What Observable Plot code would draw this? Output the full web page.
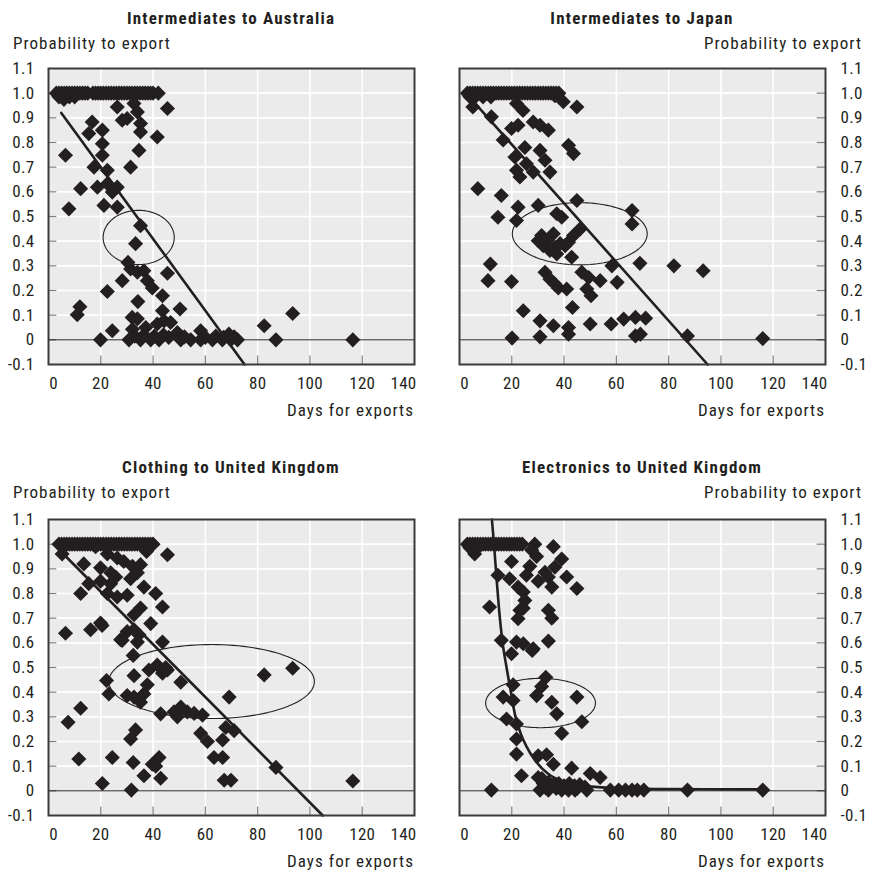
<!DOCTYPE html>
<html>
<head>
<meta charset="utf-8">
<script src="https://cdn.jsdelivr.net/npm/d3@7"></script>
<script src="https://cdn.jsdelivr.net/npm/@observablehq/plot@0.6"></script>
<style>
  html, body { margin: 0; padding: 0; background: #fff; }
  #page { position: relative; width: 876px; height: 872px; overflow: hidden;
    font-family: "Roboto Condensed", "DejaVu Sans Condensed", sans-serif;
    color: #231f20; }
  .t { position: absolute; white-space: nowrap; line-height: 1; }
  .title { font-weight: bold; font-size: 17px; letter-spacing: 1.2px; transform: translate(-50%, -50%); }
  .ylab { font-size: 17px; letter-spacing: 1.05px; transform: translateY(-50%); }
  .ylab.r { transform: translate(-100%, -50%); }
  .xlab { font-size: 17px; letter-spacing: 1.05px; transform: translate(-100%, -50%); }
  .panel { position: absolute; }
</style>
</head>
<body>
<div id="page"></div>
<script>
// ---------------- DATA ----------------
const titles = ["Intermediates to Australia", "Intermediates to Japan", "Clothing to United Kingdom", "Electronics to United Kingdom"];
const yAxisTitle = "Probability to export";
const xAxisTitle = "Days for exports";
const xTicks = [0, 20, 40, 60, 80, 100, 120, 140];
const yTicks = [-0.1, 0, 0.1, 0.2, 0.3, 0.4, 0.5, 0.6, 0.7, 0.8, 0.9, 1.0, 1.1];

// Intermediates to Australia: [days, probability]
const ausTop = [3,4,5,6,7,8,9,10,11,12,13,14,15,17,18,19,20,21,22,23,24,25,26,27,28,29,30,31,32,33,34,35,36,37,38,39,40,42];
const ausPoints = [[4,0.985],[6,0.985],[8,0.985],[10,0.985],[5.9,0.975],[26.3,0.944],[28.2,0.89],[30.1,0.897],[32.7,0.958],[34,0.924],[35.2,0.877],[35.2,0.843],[41.6,0.822],[45.5,0.938],[16.7,0.883],[15.4,0.836],[20.6,0.85],[20.6,0.795],[6.5,0.748],[20.6,0.748],[34.6,0.768],[17.4,0.70],[22.5,0.687],[31.4,0.70],[12.3,0.613],[18.7,0.619],[22.5,0.633],[24.4,0.599],[26.3,0.619],[7.8,0.531],[21.2,0.545],[26.3,0.538],[35.2,0.463],[33.3,0.39],[30.4,0.314],[31.4,0.287],[34,0.274],[36.5,0.28],[45.5,0.27],[28.2,0.24],[37.8,0.24],[39.7,0.21],[22.5,0.196],[43.6,0.179],[34.2,0.155],[12,0.134],[11,0.102],[50.3,0.125],[43.6,0.118],[32,0.091],[34,0.085],[41.6,0.064],[44.2,0.077],[46.7,0.07],[37.2,0.05],[32.1,0.043],[24.4,0.037],[58.2,0.037],[49.3,0.03],[82.5,0.057],[93.4,0.107],[69,0.023],[19.9,0],[30.8,0],[35.2,0],[39.1,0],[42.3,0],[50.6,0],[54.4,0],[58.2,0],[62.7,0],[66.5,0],[69.7,0],[72.3,0],[87,0],[116.4,0],[33,0.015],[36.5,0.02],[40.5,0.015],[44,0.02],[46,0.01],[52,0.012],[60,0.01],[64,0.015],[67,0.01],[71,0.012]];
const ausFit = [[4.9,0.92],[75,-0.1]];
const ausEllipse = [34.5, 0.415, 13.6, 0.11]; // centre x, centre y, radius x, radius y

// Intermediates to Japan
const jpnTop = [3,4,5,6,7,8,9,10,11,12,13,14,15,16,17,18,19,20,21,22,23,24,25,26,27,28,29,30,31,32,33,34,35,36,37,38];
const jpnPoints = [[4,0.985],[6,0.985],[9,0.985],[12,0.985],[5.1,0.944],[12.2,0.904],[21.8,0.958],[19.9,0.857],[22.4,0.87],[24.3,0.93],[28.2,0.883],[30.8,0.87],[34,0.85],[36.5,0.99],[39.7,0.965],[44.9,0.944],[16.7,0.81],[25,0.78],[30.8,0.768],[41.7,0.789],[43.6,0.755],[21.2,0.741],[25.6,0.714],[32.7,0.728],[21.8,0.687],[23.1,0.66],[28.2,0.68],[34.6,0.68],[7,0.613],[16,0.585],[44.9,0.565],[22.4,0.538],[30.1,0.545],[37.2,0.511],[66,0.524],[14.7,0.497],[21.8,0.484],[39.1,0.497],[66,0.47],[46.2,0.45],[43.6,0.423],[31.4,0.423],[33.3,0.402],[35.9,0.43],[36.5,0.375],[32,0.382],[34.6,0.362],[37.2,0.348],[40.4,0.382],[41.7,0.396],[30.1,0.402],[38.5,0.39],[42.9,0.335],[58.3,0.30],[69,0.31],[82,0.30],[93.2,0.28],[11.8,0.307],[10.9,0.24],[19.9,0.236],[32.7,0.274],[34.6,0.246],[36.5,0.226],[37.8,0.21],[41,0.206],[46.8,0.274],[49.4,0.253],[48.7,0.206],[50.3,0.179],[53.8,0.24],[60.3,0.233],[24.4,0.118],[43.2,0.131],[30.8,0.077],[35.9,0.057],[41.7,0.05],[41.7,0.023],[50,0.064],[58,0.064],[62.8,0.084],[67.3,0.091],[71.2,0.088],[67.3,0.016],[69.2,0.023],[87.2,0.016],[20.1,0.007],[30.8,0.012],[116,0.005]];
const jpnFit = [[4.6,0.975],[94.9,-0.1]];
const jpnEllipse = [46, 0.43, 25.8, 0.126];

// Clothing to United Kingdom
const gbrTop = [4,5,6,7,8,9,10,11,12,13,14,15,16,17,18,19,20,21,22,23,24,25,26,27,28,29,30,31,32,33,34,35,36,37,38,39,40];
const gbrPoints = [[5.2,0.96],[45.5,0.957],[13.5,0.92],[18,0.99],[22.5,0.96],[19.9,0.904],[23.8,0.884],[26.3,0.944],[28.8,0.93],[32.1,0.91],[35.2,0.917],[34,0.884],[37.5,0.97],[31.4,0.86],[15.4,0.84],[19.9,0.85],[23.8,0.84],[25.7,0.867],[36.5,0.826],[12.3,0.80],[22.5,0.80],[26.3,0.786],[30.1,0.793],[41,0.80],[43.6,0.745],[32.7,0.714],[35.2,0.741],[39.1,0.678],[19.9,0.68],[20.5,0.67],[16.1,0.653],[6.5,0.639],[30.1,0.646],[32.7,0.653],[34.6,0.633],[27.6,0.613],[34,0.603],[43.6,0.603],[28.2,0.61],[32.4,0.549],[38.4,0.49],[41.6,0.51],[43.6,0.477],[44.8,0.50],[45.5,0.49],[32.7,0.467],[22.2,0.447],[23.1,0.393],[50.6,0.44],[37.8,0.43],[36.5,0.393],[30.1,0.386],[32.7,0.38],[35.2,0.359],[34.5,0.37],[82.5,0.47],[93.4,0.497],[69.1,0.38],[42.9,0.312],[48,0.32],[50.6,0.34],[49.3,0.30],[53.1,0.32],[55.7,0.314],[58.9,0.307],[67.8,0.257],[71,0.244],[58.2,0.233],[60.8,0.20],[66.6,0.206],[63.3,0.135],[66.6,0.135],[7.5,0.278],[12.3,0.335],[33.3,0.247],[31.4,0.21],[11.6,0.129],[24.4,0.135],[32.4,0.115],[39.7,0.108],[42.3,0.135],[41,0.10],[36.5,0.061],[42.9,0.051],[20.6,0.03],[31.7,0.003],[67.2,0.043],[69.8,0.043],[87,0.095],[116.4,0.04]];
const gbrFit = [[5.7,0.96],[104.9,-0.1]];
const gbrEllipse = [62.4, 0.443, 39.3, 0.15];

// Electronics to United Kingdom
const eleTop = [3,4,5,6,7,8,9,10,11,12,13,14,15,16,17,18,19,20,21,22,23,24,28.8];
const elePoints = [[35.9,0.99],[4,0.985],[7,0.985],[5.8,0.96],[19.9,0.93],[27.6,0.976],[29.5,0.95],[26.9,0.91],[25.6,0.874],[39.1,0.94],[36.5,0.907],[32.7,0.886],[14.7,0.874],[19.2,0.86],[30.1,0.85],[34,0.867],[41,0.867],[22.4,0.826],[35.3,0.826],[44.9,0.82],[24.4,0.806],[25,0.772],[11.5,0.745],[23.1,0.732],[24.4,0.74],[34,0.732],[22.4,0.698],[35.3,0.70],[16,0.61],[21.8,0.603],[24.4,0.596],[28.2,0.576],[34,0.607],[19.9,0.556],[27.8,0.569],[33,0.46],[20.5,0.43],[31.4,0.423],[29.5,0.386],[16.7,0.38],[20.5,0.366],[44.9,0.38],[35.3,0.359],[37.2,0.312],[18,0.291],[21.8,0.271],[46.8,0.28],[39.1,0.233],[21.8,0.21],[21.8,0.149],[30.1,0.142],[33.3,0.146],[35.9,0.108],[42.9,0.092],[23.7,0.061],[50,0.07],[53.8,0.054],[30.1,0.054],[31.5,0.05],[32,0.03],[34,0.035],[36,0.025],[38,0.03],[40,0.02],[42,0.03],[44,0.02],[46,0.025],[48,0.015],[33,0.012],[37,0.01],[45,0.01],[12.2,0.003],[30.8,0.003],[34,0.003],[39.1,0.003],[41.7,0.003],[44.2,0.003],[48.7,0.003],[57.7,0.003],[60.9,0.003],[63.5,0.003],[66,0.003],[68,0.003],[70.5,0.003],[87.2,0.003],[116,0.003]];
const eleFit = [[12.4,1.1],[13.2,1.0],[14.1,0.87],[15.1,0.74],[16.5,0.6],[18,0.5],[19.5,0.41],[21.2,0.31],[23.5,0.23],[25.6,0.18],[28.8,0.125],[34,0.068],[40.4,0.035],[49.3,0.018],[62,0.01],[80,0.007],[116,0.006]];
const eleEllipse = [31, 0.356, 21, 0.1];

// ---------------- CHART ----------------
const INK = "#231f20";
const FONT = '"Roboto Condensed", "DejaVu Sans Condensed", sans-serif';
const toObj = a => a.map(([x, y]) => ({x, y}));
const fmtY = d => d === 0 ? "0" : d.toFixed(1);

function panel({top, points, fit, ellipse, right, smooth}) {
  const pts = top.map(x => ({x, y: 1.0})).concat(toObj(points));
  const [cx, cy, rx, ry] = ellipse;
  const ell = d3.range(0, 361, 3).map(a => ({x: cx + rx * Math.cos(a * Math.PI / 180), y: cy + ry * Math.sin(a * Math.PI / 180)}));
  const innerX = xTicks.slice(1, -1);
  const innerY = yTicks.slice(1, -1);
  return Plot.plot({
    width: 438, height: 420,
    marginLeft: right ? 21 : 48, marginRight: right ? 51 : 24,
    marginTop: 68, marginBottom: 56,
    x: {domain: [0, 140], axis: null, label: null},
    y: {domain: [-0.1, 1.1], axis: null, label: null},
    style: {fontFamily: FONT, fontSize: "17px", letterSpacing: "0.3px", color: INK, background: "transparent", overflow: "visible"},
    marks: [
      Plot.frame({fill: "#ebebeb"}),
      Plot.ruleX(innerX, {stroke: "white", strokeWidth: 1.6}),
      Plot.ruleY(innerY, {stroke: "white", strokeWidth: 1.6}),
      Plot.ruleY(innerY, {x1: right ? 136.8 : 0, x2: right ? 140 : 3.2, stroke: "#808080", strokeWidth: 1.2}),
      Plot.ruleX(innerX, {y1: -0.1, y2: -0.066, stroke: "#808080", strokeWidth: 1.2}),
      Plot.ruleY([0], {stroke: INK, strokeWidth: 1}),
      Plot.line(ell, {x: "x", y: "y", stroke: INK, strokeWidth: 1.1}),
      Plot.dot(pts, {x: "x", y: "y", symbol: "diamond2", r: 6.8, fill: INK}),
      Plot.line(toObj(fit), {x: "x", y: "y", stroke: INK, strokeWidth: 2.6, curve: smooth ? "monotone-x" : "linear"}),
      Plot.frame({stroke: "#3a3a3a", strokeWidth: 2}),
      Plot.axisY(yTicks, {anchor: right ? "right" : "left", tickSize: 0, tickPadding: right ? 15 : 14, tickFormat: fmtY, label: null, fontSize: 17, fill: INK}),
      Plot.text(innerX, {x: d => d, frameAnchor: "bottom", dy: 24, text: d => String(d), fontSize: 17, fill: INK}),
      Plot.text([xTicks[0]], {x: d => d, frameAnchor: "bottom", dy: 24, dx: 5, text: d => String(d), fontSize: 17, fill: INK}),
      Plot.text([xTicks[xTicks.length - 1]], {x: d => d, frameAnchor: "bottom", dy: 24, dx: -11, text: d => String(d), fontSize: 17, fill: INK})
    ]
  });
}

const page = document.getElementById("page");
const cfgs = [
  {top: ausTop, points: ausPoints, fit: ausFit, ellipse: ausEllipse, right: false, left: 0, y0: 0},
  {top: jpnTop, points: jpnPoints, fit: jpnFit, ellipse: jpnEllipse, right: true, left: 438, y0: 0},
  {top: gbrTop, points: gbrPoints, fit: gbrFit, ellipse: gbrEllipse, right: false, left: 0, y0: 451},
  {top: eleTop, points: elePoints, fit: eleFit, ellipse: eleEllipse, right: true, left: 438, y0: 451, smooth: true}
];

cfgs.forEach((c, i) => {
  const wrap = document.createElement("div");
  wrap.className = "panel";
  wrap.style.left = c.left + "px";
  wrap.style.top = c.y0 + "px";
  wrap.appendChild(panel(c));
  page.appendChild(wrap);

  const frameL = c.right ? c.left + 21 : c.left + 48;
  const frameR = c.right ? c.left + 438 - 51 : c.left + 438 - 24;
  const dy = c.y0 === 0 ? 0 : 449;

  const t = document.createElement("div");
  t.className = "t title";
  t.textContent = titles[i];
  t.style.left = ((frameL + frameR) / 2) + "px";
  t.style.top = (18 + dy) + "px";
  page.appendChild(t);

  const yl = document.createElement("div");
  yl.className = "t ylab" + (c.right ? " r" : "");
  yl.textContent = yAxisTitle;
  yl.style.left = (c.right ? 862 : 13) + "px";
  yl.style.top = (43 + dy) + "px";
  page.appendChild(yl);

  const xl = document.createElement("div");
  xl.className = "t xlab";
  xl.textContent = xAxisTitle;
  xl.style.left = frameR + "px";
  xl.style.top = (c.y0 + 410) + "px";
  page.appendChild(xl);
});
</script>
</body>
</html>
